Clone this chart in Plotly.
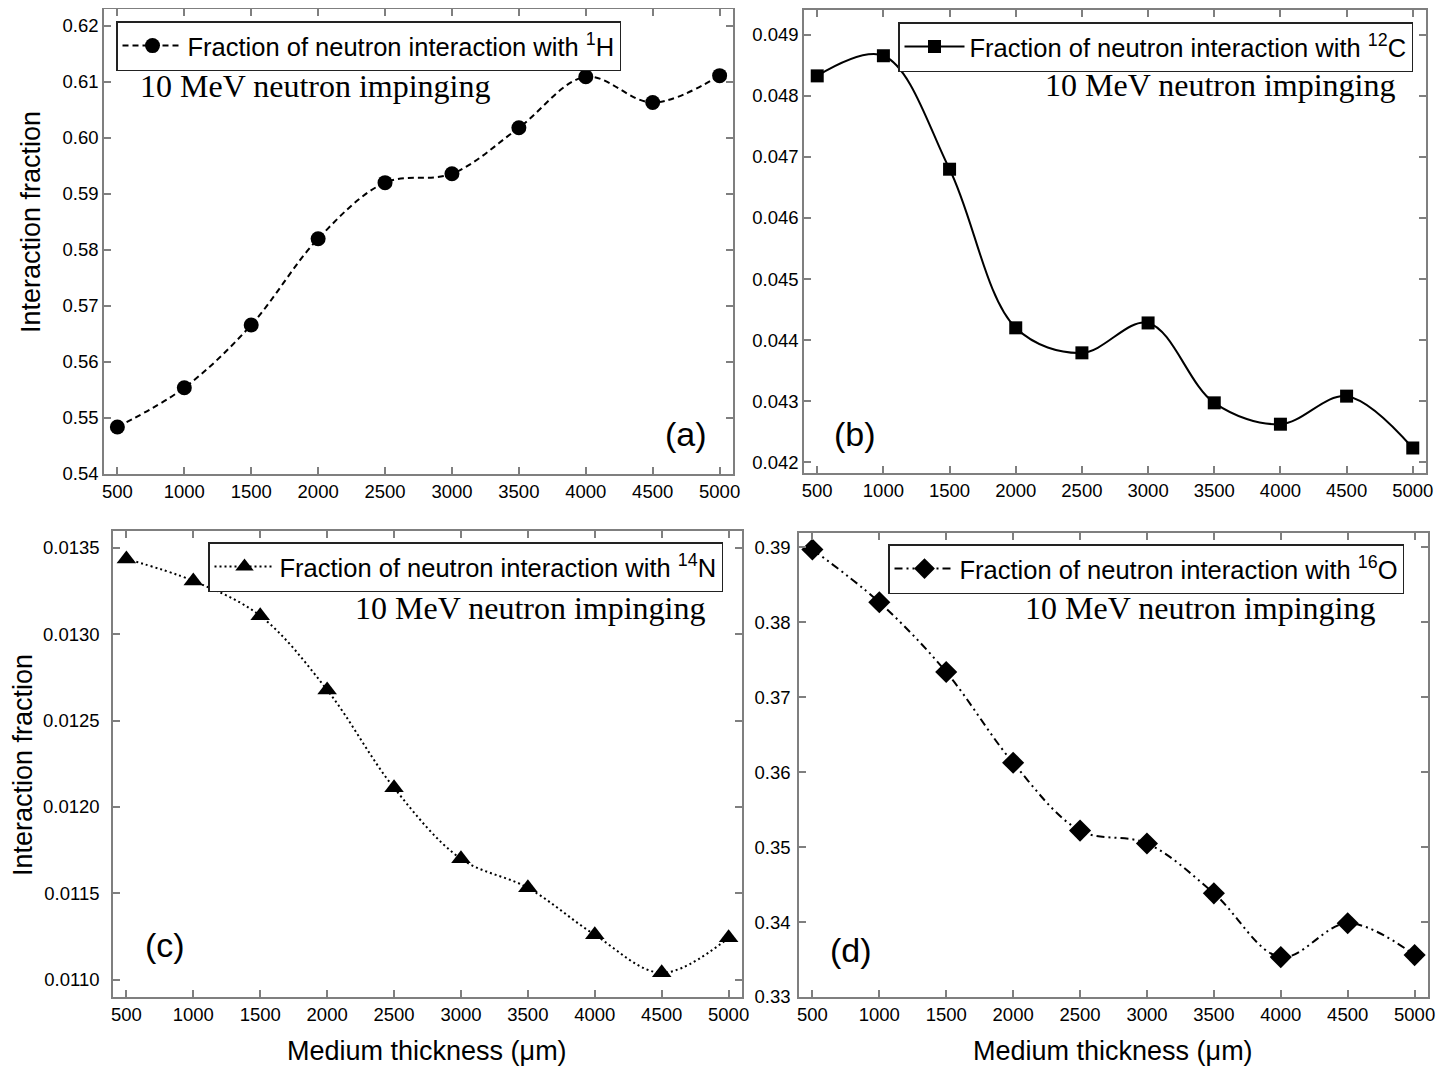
import plotly.graph_objects as go

thickness = [500, 1000, 1500, 2000, 2500, 3000, 3500, 4000, 4500, 5000]
frac_H = [0.5484, 0.5554, 0.5666, 0.5820, 0.5920, 0.5936, 0.6018, 0.6109, 0.6063, 0.6111]
frac_C = [0.04833, 0.04866, 0.04680, 0.04420, 0.04379, 0.04428, 0.04297, 0.04262, 0.04308, 0.04223]
frac_N = [0.013436, 0.013309, 0.013107, 0.012678, 0.012111, 0.011700, 0.011532, 0.011260, 0.011040, 0.011243]
frac_O = [0.3897, 0.38266, 0.37335, 0.36125, 0.3522, 0.35048, 0.34383, 0.33532, 0.33984, 0.33559]

x_ticks = [500, 1000, 1500, 2000, 2500, 3000, 3500, 4000, 4500, 5000]
yticks_a = [0.54, 0.55, 0.56, 0.57, 0.58, 0.59, 0.60, 0.61, 0.62]
yticks_b = [0.042, 0.043, 0.044, 0.045, 0.046, 0.047, 0.048, 0.049]
yticks_c = [0.0110, 0.0115, 0.0120, 0.0125, 0.0130, 0.0135]
yticks_d = [0.33, 0.34, 0.35, 0.36, 0.37, 0.38, 0.39]

OFF = 8  # default page body margin
W, H = 1450 - OFF, 1068 - OFF
SANS = "Liberation Sans, Arial, sans-serif"
SERIF = "Liberation Serif, Times New Roman, serif"
AXC = "#7f7f7f"

def px(x):
    return (x - OFF) / W

def py(y):
    return 1 - (y - OFF) / H

fig = go.Figure()

series = [
    (frac_H, "circle", 15, "6px,4px", "Fraction of neutron interaction with <sup>1</sup>H", "x", "y", "legend"),
    (frac_C, "square", 13, "solid", "Fraction of neutron interaction with <sup>12</sup>C", "x2", "y2", "legend2"),
    (frac_N, "triangle-up", 17, "2px,3px", "Fraction of neutron interaction with <sup>14</sup>N", "x3", "y3", "legend3"),
    (frac_O, "diamond", 17, "8px,4px,2px,4px,2px,4px", "Fraction of neutron interaction with <sup>16</sup>O", "x4", "y4", "legend4"),
]
for vals, sym, sz, dash, name, xa, ya, lg in series:
    fig.add_trace(go.Scatter(
        x=thickness, y=vals, mode="lines+markers", name=name,
        line=dict(color="black", width=2, dash=dash, shape="spline", smoothing=1.0),
        marker=dict(symbol=sym, size=sz, color="black"),
        xaxis=xa, yaxis=ya, legend=lg, showlegend=True,
    ))

def xaxis(domain, anchor):
    return dict(domain=domain, anchor=anchor, range=[400, 5100], tickvals=x_ticks,
                ticks="inside", ticklen=7, tickcolor=AXC, tickwidth=1.5,
                showline=True, linecolor=AXC, linewidth=1.5, mirror="ticks",
                showgrid=False, zeroline=False, automargin=False,
                tickfont=dict(family=SANS, size=18.5, color="black"))

def yaxis(domain, anchor, rng, tv, fmt, standoff=0):
    return dict(domain=domain, anchor=anchor, range=rng, tickvals=tv, tickformat=fmt,
                ticks="inside", ticklen=7, tickcolor=AXC, tickwidth=1.5,
                showline=True, linecolor=AXC, linewidth=1.5, mirror="ticks",
                showgrid=False, zeroline=False, automargin=False,
                ticklabelstandoff=standoff,
                tickfont=dict(family=SANS, size=18.5, color="black"))

def legend(x, y):
    return dict(x=px(x), y=py(y), xanchor="left", yanchor="top", xref="paper", yref="paper",
                bgcolor="white", bordercolor="#222", borderwidth=1.5,
                font=dict(family=SANS, size=25.5, color="black"), itemwidth=60,
                tracegroupgap=0)

fig.update_layout(
    width=W, height=H, margin=dict(l=0, r=0, t=0, b=0, autoexpand=False),
    paper_bgcolor="white", plot_bgcolor="white",
    xaxis=xaxis([px(104), px(733)], "y"),
    yaxis=yaxis([py(474), py(9)], "x", [0.54, 0.623], yticks_a, ".2f"),
    xaxis2=xaxis([px(804), px(1426)], "y2"),
    yaxis2=yaxis([py(473), py(10)], "x2", [0.04182, 0.04941], yticks_b, ".3f"),
    xaxis3=xaxis([px(113), px(742)], "y3"),
    yaxis3=yaxis([py(997), py(531)], "x3", [0.0109, 0.013598], yticks_c, ".4f", 8),
    xaxis4=xaxis([px(799), px(1428)], "y4"),
    yaxis4=yaxis([py(997), py(533)], "x4", [0.33, 0.3919], yticks_d, ".2f", 3),
    legend=legend(116, 21),
    legend2=legend(898, 22),
    legend3=legend(208, 542),
    legend4=legend(888, 544),
)

ann = []
for cx, cy in [(315, 86), (1220, 85), (530, 608), (1200, 608)]:
    ann.append(dict(x=px(cx), y=py(cy), xref="paper", yref="paper", text="10 MeV neutron impinging",
                    showarrow=False, xanchor="center", yanchor="middle",
                    font=dict(family=SERIF, size=32, color="black")))
for t, cx, cy in [("(a)", 686, 434), ("(b)", 855, 434), ("(c)", 165, 945), ("(d)", 851, 950)]:
    ann.append(dict(x=px(cx), y=py(cy), xref="paper", yref="paper", text=t,
                    showarrow=False, xanchor="center", yanchor="middle",
                    font=dict(family=SANS, size=34, color="black")))
for cx, cy in [(31, 222), (23, 765)]:
    ann.append(dict(x=px(cx), y=py(cy), xref="paper", yref="paper", text="Interaction fraction",
                    showarrow=False, xanchor="center", yanchor="middle", textangle=-90,
                    font=dict(family=SANS, size=27, color="black")))
for cx, cy in [(427, 1051), (1113, 1051)]:
    ann.append(dict(x=px(cx), y=py(cy), xref="paper", yref="paper", text="Medium thickness (\u03bcm)",
                    showarrow=False, xanchor="center", yanchor="middle",
                    font=dict(family=SANS, size=27, color="black")))
fig.update_layout(annotations=ann)

fig.write_html("out.html")
